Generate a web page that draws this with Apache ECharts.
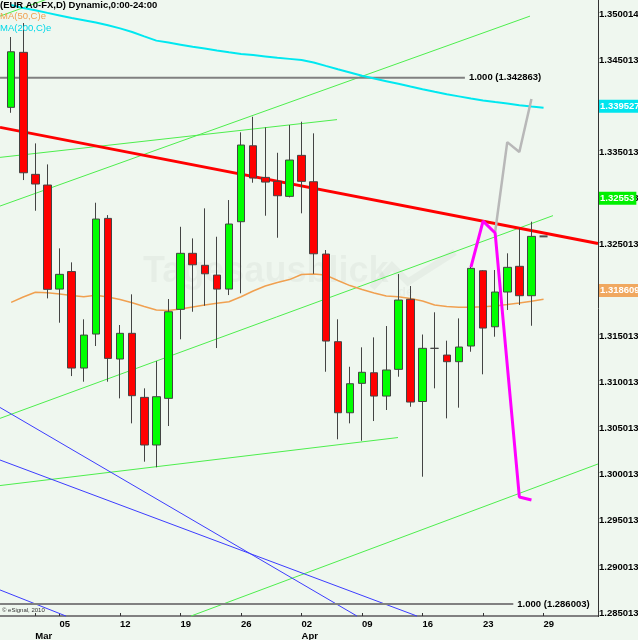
<!DOCTYPE html>
<html>
<head>
<meta charset="utf-8">
<script src="https://cdn.jsdelivr.net/npm/echarts@6/dist/echarts.min.js"></script>
<style>
  html, body { margin: 0; padding: 0; background: #eff7ef; }
  #main { width: 638px; height: 640px; }
</style>
</head>
<body>
<div id="main"></div>
<script>
// EUR A0-FX daily, Mar - Apr 2010
// one category per day slot; first slot and the last five are empty
const xLabels = ['', '', '', '\nMar', '', '05', '', '', '', '', '12', '', '', '', '', '19', '', '', '', '',
  '26', '', '', '', '', '02\nApr', '', '', '', '', '09', '', '', '', '', '16', '', '', '', '',
  '23', '', '', '', '', '29', '', '', '', ''];

const yTickLabels = ['1.285013', '1.290013', '1.295013', '1.300013', '1.305013', '1.310013', '1.315013',
  '1.320013', '1.325013', '1.330013', '1.335013', '1.340013', '1.345013', '1.350014'];

// [open, close, low, high]
const candles = [
  [1.33987, 1.34590, 1.33928, 1.34750],
  [1.34584, 1.33277, 1.33198, 1.34902],
  [1.33260, 1.33155, 1.32865, 1.33596],
  [1.33144, 1.32012, 1.31914, 1.33368],
  [1.32015, 1.32175, 1.31650, 1.32457],
  [1.32205, 1.31158, 1.31071, 1.32305],
  [1.31158, 1.31516, 1.31010, 1.31687],
  [1.31527, 1.32775, 1.31397, 1.32952],
  [1.32782, 1.31263, 1.31010, 1.32818],
  [1.31256, 1.31535, 1.30829, 1.31625],
  [1.31535, 1.30858, 1.30558, 1.31958],
  [1.30840, 1.30323, 1.30142, 1.30938],
  [1.30323, 1.30847, 1.30081, 1.31234],
  [1.30829, 1.31769, 1.30529, 1.31907],
  [1.31795, 1.32403, 1.31470, 1.32691],
  [1.32403, 1.32279, 1.31769, 1.32565],
  [1.32273, 1.32181, 1.31834, 1.32891],
  [1.32167, 1.32015, 1.31375, 1.32583],
  [1.32015, 1.32721, 1.31950, 1.32981],
  [1.32746, 1.33578, 1.31969, 1.33716],
  [1.33570, 1.33220, 1.33169, 1.33885],
  [1.33227, 1.33176, 1.32811, 1.33770],
  [1.33184, 1.33028, 1.32572, 1.33494],
  [1.33021, 1.33415, 1.33010, 1.33795],
  [1.33466, 1.33184, 1.32837, 1.33831],
  [1.33180, 1.32398, 1.32181, 1.33705],
  [1.32395, 1.31451, 1.31118, 1.32439],
  [1.31444, 1.30673, 1.30385, 1.31687],
  [1.30673, 1.30988, 1.30558, 1.31172],
  [1.30992, 1.31112, 1.30369, 1.31383],
  [1.31107, 1.30854, 1.30583, 1.31491],
  [1.30854, 1.31137, 1.30703, 1.31614],
  [1.31144, 1.31896, 1.31064, 1.32178],
  [1.31904, 1.30789, 1.30738, 1.32048],
  [1.30795, 1.31372, 1.29979, 1.31522],
  [1.31372, 1.31372, 1.30938, 1.31763],
  [1.31299, 1.31227, 1.30612, 1.31455],
  [1.31227, 1.31386, 1.30728, 1.31697],
  [1.31397, 1.32240, 1.31335, 1.32265],
  [1.32214, 1.31592, 1.31090, 1.32221],
  [1.31606, 1.31983, 1.31498, 1.32222],
  [1.31983, 1.32251, 1.31788, 1.32403],
  [1.32262, 1.31943, 1.31842, 1.32674],
  [1.31943, 1.32587, 1.31617, 1.32746]
];

const ma50 = [1.31871, 1.31929, 1.31980, 1.31975, 1.31961, 1.31945, 1.31932, 1.31947, 1.31929, 1.31901,
  1.31867, 1.31826, 1.31788, 1.31782, 1.31798, 1.31820, 1.31842, 1.31860, 1.31878, 1.31932,
  1.31994, 1.32048, 1.32086, 1.32118, 1.32173, 1.32178, 1.32167, 1.32108, 1.32053, 1.32010,
  1.31972, 1.31939, 1.31932, 1.31912, 1.31885, 1.31842, 1.31826, 1.31817, 1.31817, 1.31823,
  1.31831, 1.31847, 1.31864, 1.31882, 1.31904];

const ma200 = [1.35097, 1.35064, 1.35041, 1.35012, 1.34984, 1.34956, 1.34933, 1.34907, 1.34877, 1.34844,
  1.34805, 1.34757, 1.34711, 1.34690, 1.34667, 1.34644, 1.34625, 1.34604, 1.34585, 1.34567,
  1.34554, 1.34540, 1.34525, 1.34513, 1.34500, 1.34474, 1.34437, 1.34401, 1.34366, 1.34330,
  1.34299, 1.34271, 1.34243, 1.34213, 1.34184, 1.34156, 1.34129, 1.34106, 1.34083, 1.34062,
  1.34044, 1.34028, 1.34011, 1.33996, 1.33983];

// drawn objects, [bar index, price]
const resistance = [[-0.92, 1.33770], [48.5, 1.32509]];
const fibHigh = [[-0.92, 1.34308], [37.5, 1.34308]];
const fibLow = [[-0.92, 1.28598], [41.5, 1.28598]];
const greenLines = [
  [[-0.92, 1.32916], [42.88, 1.34977]],
  [[-0.92, 1.33444], [26.93, 1.33854]],
  [[-0.92, 1.30612], [44.78, 1.32812]],
  [[-0.92, 1.29883], [31.97, 1.30404]],
  [[14.86, 1.28467], [48.5, 1.30117]],
  [[-0.92, 1.34977], [3.5, 1.35187]]
];
const blueLines = [
  [[-0.92, 1.30160], [33.54, 1.28467]],
  [[-0.92, 1.30730], [28.58, 1.28467]],
  [[-0.92, 1.28750], [4.53, 1.28467]]
];
const magentaPath = [[38, 1.32254], [39, 1.32753], [40, 1.32623], [42, 1.29759], [43, 1.29726]];
const grayPath = [[40, 1.32634], [41, 1.33610], [42, 1.33502], [43, 1.34077]];

// right-hand price tags
const tagMa200 = '1.339527';
const tagLast = '1.32553';
const tagMa50 = '1.318609';

const lastClose = candles[candles.length - 1][1];
const FONT = '"Liberation Sans", Arial, sans-serif';

function segment(points, color, width, z) {
  return {
    type: 'line', xAxisIndex: 1, data: points, symbol: 'none', silent: true, z: z,
    lineStyle: { color: color, width: width }
  };
}

function priceTag(value, text, bg) {
  return {
    symbol: ['none', 'none'], silent: true,
    lineStyle: { color: 'rgba(0,0,0,0)', width: 1, type: 'solid' },
    data: [{ yAxis: value }],
    label: {
      show: true, position: 'end', distance: 1, formatter: text, color: '#fff', backgroundColor: bg,
      fontFamily: FONT, fontWeight: 'bold', fontSize: 9.5, padding: [2, 2, 1, 1]
    }
  };
}

const chart = echarts.init(document.getElementById('main'));

const series = [];
greenLines.forEach(function (l) { series.push(segment(l, '#4dee4d', 1, 1)); });
blueLines.forEach(function (l) { series.push(segment(l, '#3c3cff', 1, 1)); });

[[fibHigh, '1.000 (1.342863)'], [fibLow, '1.000 (1.286003)']].forEach(function (f) {
  const s = segment(f[0], '#808080', 2, 1);
  s.endLabel = { show: true, formatter: f[1], distance: 4, color: '#000', fontFamily: FONT, fontWeight: 'bold', fontSize: 9.5 };
  series.push(s);
});

const ma50Series = segment(ma50.map(function (v, i) { return [i, v]; }), '#f0a050', 1.5, 1);
ma50Series.markLine = priceTag(ma50[ma50.length - 1], tagMa50, '#f0a860');
series.push(ma50Series);

const ma200Series = segment(ma200.map(function (v, i) { return [i, v]; }), '#00e8f0', 2, 1);
ma200Series.markLine = priceTag(ma200[ma200.length - 1], tagMa200, '#00e5ee');
series.push(ma200Series);

series.push(segment(resistance, '#ff0000', 3, 2));

series.push({
  type: 'candlestick', xAxisIndex: 0, yAxisIndex: 0, z: 3,
  data: ['-'].concat(candles),
  barWidth: 8,
  itemStyle: { color: '#00ff00', color0: '#ff0000', borderColor: '#444', borderColor0: '#444', borderWidth: 1 },
  markLine: priceTag(lastClose, tagLast, '#00f000')
});

series.push(segment(grayPath, '#b8b8b8', 2.5, 4));
series.push(segment(magentaPath, '#ff00ff', 3, 4));

series.push({
  type: 'scatter', xAxisIndex: 1, data: [[candles.length, lastClose]], silent: true, z: 4,
  symbol: 'rect', symbolSize: [8, 2], itemStyle: { color: '#222' }
});

chart.setOption({
  animation: false,
  backgroundColor: '#eff7ef',
  grid: { left: -7, right: 40, top: -32.08, bottom: -19.08, containLabel: false, outerBoundsMode: 'none' },
  xAxis: [
    {
      type: 'category',
      data: xLabels.map(function (s, i) { return String(i); }),
      boundaryGap: true,
      offset: -43.08,
      axisLine: { lineStyle: { color: '#808080', width: 2 } },
      axisTick: {
        show: true, inside: true, length: 3, alignWithLabel: true,
        interval: function (i) { return xLabels[i] !== ''; },
        lineStyle: { color: '#333' }
      },
      axisLabel: {
        interval: function (i) { return xLabels[i] !== ''; },
        formatter: function (v, i) { return xLabels[i]; },
        align: 'left', margin: 2, lineHeight: 12,
        color: '#000', fontFamily: FONT, fontWeight: 'bold', fontSize: 9.5
      },
      splitLine: { show: false }
    },
    { type: 'value', min: -1.5, max: 48.5, show: false }
  ],
  yAxis: {
    type: 'value', position: 'right',
    min: 1.28, max: 1.355, interval: 0.005,
    axisLine: { show: false }, axisTick: { show: false }, splitLine: { show: false },
    axisLabel: {
      margin: 1, color: '#000', fontFamily: FONT, fontWeight: 'bold', fontSize: 9.5,
      formatter: function (v) {
        const i = Math.round((v - 1.285) / 0.005);
        return yTickLabels[i] || '';
      }
    }
  },
  graphic: [
    { type: 'text', x: 143, y: 272, z: 0, silent: true,
      style: { text: 'Tagesausblick', font: 'bold 36px ' + FONT, fill: 'rgba(0,0,0,0.035)', verticalAlign: 'middle' } },
    { type: 'text', x: 398, y: 292, z: 0, silent: true,
      style: { text: 'de', font: 'bold 13px ' + FONT, fill: 'rgba(0,0,0,0.035)', verticalAlign: 'middle' } },
    { type: 'polyline', z: 0, silent: true,
      shape: { points: [[372, 288], [392, 266], [408, 282], [455, 252]] },
      style: { stroke: 'rgba(0,0,0,0.035)', lineWidth: 7, fill: null } },
    { type: 'line', z: 10, silent: true,
      shape: { x1: 598.5, y1: 0, x2: 598.5, y2: 617 }, style: { stroke: '#333', lineWidth: 1 } },
    { type: 'text', x: 0, y: 5, z: 10, silent: true,
      style: { text: '(EUR A0-FX,D) Dynamic,0:00-24:00', font: 'bold 9.5px ' + FONT, fill: '#000', verticalAlign: 'middle' } },
    { type: 'text', x: 0, y: 16.5, z: 10, silent: true,
      style: { text: 'MA(50,C)e', font: '9.5px ' + FONT, fill: '#f0a050', verticalAlign: 'middle' } },
    { type: 'text', x: 0, y: 28.5, z: 10, silent: true,
      style: { text: 'MA(200,C)e', font: '9.5px ' + FONT, fill: '#00d8e8', verticalAlign: 'middle' } },
    { type: 'text', x: 2, y: 610, z: 10, silent: true,
      style: { text: '\u00a9 eSignal, 2010', font: '6px ' + FONT, fill: '#333', verticalAlign: 'middle' } }
  ],
  series: series
});
</script>
</body>
</html>
